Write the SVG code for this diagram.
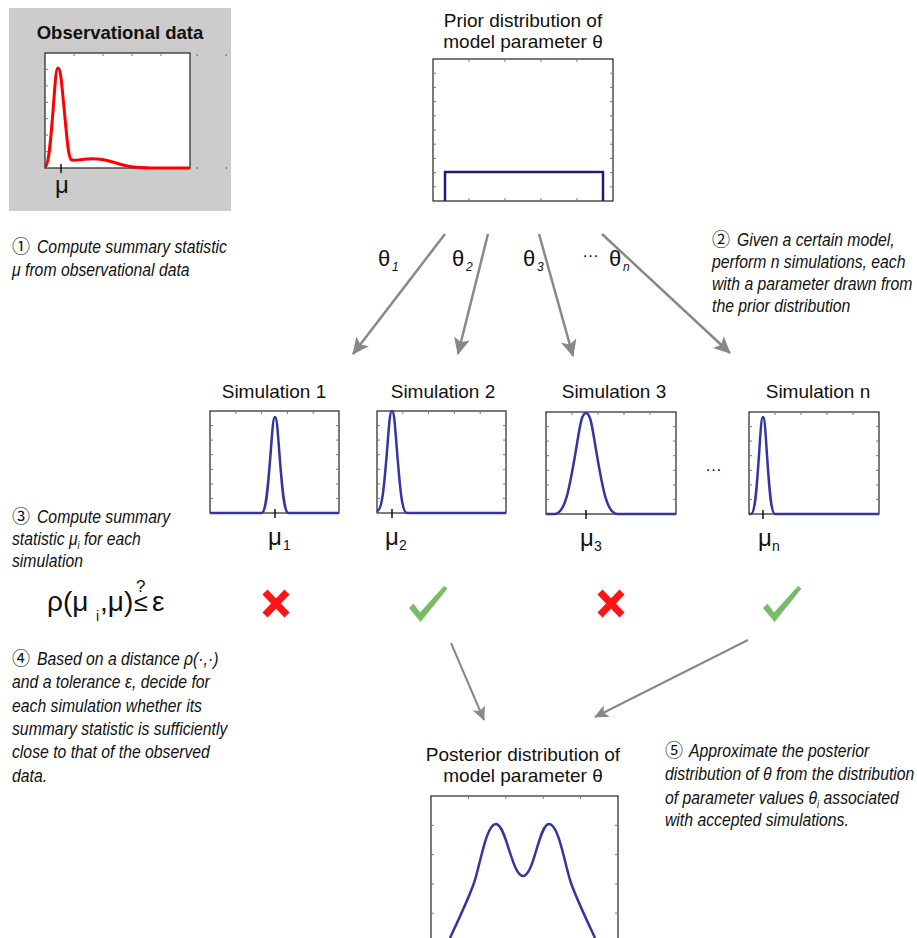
<svg xmlns="http://www.w3.org/2000/svg" width="917" height="938" viewBox="0 0 917 938">
<defs>
<style>
.lbl{font-family:"Liberation Sans",Arial,sans-serif;fill:#111}
.ann{font-family:"Liberation Sans Narrow","Liberation Sans",sans-serif;font-style:italic;font-size:19px;fill:#111}
.num{font-family:"Noto Sans CJK JP","DejaVu Sans",sans-serif;font-style:normal;font-size:18px;fill:#111}
.box{fill:#fff;stroke:#222;stroke-width:1.2}
.tick{stroke:#777;stroke-width:1;fill:none}
.curve{fill:none;stroke:#3535a0;stroke-width:2.5;stroke-linejoin:round}
.conn{stroke:#888;stroke-width:2.5;fill:none}
.conn2{stroke:#888;stroke-width:2;fill:none}
.mutick{stroke:#111;stroke-width:1.5}
.cross{stroke:#ff1414;stroke-width:7;fill:none}
.check{fill:#78bb68}
</style>
<marker id="ah" viewBox="0 0 17 16" refX="16" refY="8" markerWidth="17" markerHeight="16" markerUnits="userSpaceOnUse" orient="auto"><path d="M0,0 L17,8 L0,16 L4,8 Z" fill="#888"/></marker>
<marker id="ah2" viewBox="0 0 17 16" refX="16" refY="8" markerWidth="14" markerHeight="13" markerUnits="userSpaceOnUse" orient="auto"><path d="M0,0 L17,8 L0,16 L4,8 Z" fill="#888"/></marker>
</defs>

<g id="observational-data">
<rect x="9" y="8" width="222" height="203" fill="#cccccc"/>
<text class="lbl" x="120" y="39" font-size="18.5" font-weight="bold" text-anchor="middle">Observational data</text>
<rect class="box" x="45" y="53" width="145" height="115"/>
<path class="tick" d="M74,53v3M103,53v3M132,53v3M161,53v3M45,69.4h3M45,85.9h3M45,102.3h3M45,118.7h3M45,135.1h3M45,151.6h3"/>
<path stroke="#666" stroke-width="1.5" d="M196.5,55h1.5M225.5,55h1.5M196.5,168h1.5M225.5,168h1.5"/>
<path d="M45,167 C48.6,166 50.5,143.7 53.3,107.3 C55.2,83 55.9,68 58,68 C60.7,68 61.6,83 64,107.3 C66.4,131.6 68,157 71,159.5 C73,161 77,160 82,159.5 C88,158.8 95,158.5 102,159.5 C112,161 120,165 130,166.5 C140,168 150,168 160,168 L190,168" fill="none" stroke="#ff0000" stroke-width="3" stroke-linejoin="round"/>
<path class="mutick" d="M61,164v9"/>
<text class="lbl" x="55" y="193" font-size="24">μ</text>
</g>

<g id="prior">
<text class="lbl" x="523" y="27" font-size="19" text-anchor="middle">Prior distribution of</text>
<text class="lbl" x="523" y="48" font-size="19" text-anchor="middle">model parameter θ</text>
<rect class="box" x="433" y="59" width="180" height="142"/>
<path class="tick" d="M469,59v3M505,59v3M541,59v3M577,59v3M469,201v-3M505,201v-3M541,201v-3M577,201v-3M433,73.2h3M433,87.4h3M433,101.6h3M433,115.8h3M433,130h3M433,144.2h3M433,158.4h3M433,172.6h3M433,186.8h3M613,73.2h-3M613,87.4h-3M613,101.6h-3M613,115.8h-3M613,130h-3M613,144.2h-3M613,158.4h-3M613,172.6h-3M613,186.8h-3"/>
<path d="M445,201V172H603V201" fill="none" stroke="#1c1c78" stroke-width="2.5"/>
</g>

<g id="sim1">
<text class="lbl" x="274" y="398" font-size="19" text-anchor="middle">Simulation 1</text>
<rect class="box" x="210" y="411" width="129" height="102"/>
<path class="tick" d="M235.8,411v3M261.6,411v3M287.4,411v3M313.2,411v3M210,425.6h3M210,440.1h3M210,454.7h3M210,469.3h3M210,483.9h3M210,498.4h3M339,425.6h-3M339,440.1h-3M339,454.7h-3M339,469.3h-3M339,483.9h-3M339,498.4h-3"/>
<path class="curve" d="M210,513 H261.5 C266,513 267.8,489.7 270.5,454.7 C272.3,431.4 273,417 275,417 C277,417 277.7,431.4 279.5,454.7 C282.2,489.7 284,513 288.5,513 H339"/>
<path class="mutick" d="M275,509v9"/>
<text class="lbl" font-size="24" y="545"><tspan x="268">μ</tspan><tspan x="283" y="550" font-size="14">1</tspan></text>
</g>

<g id="sim2">
<text class="lbl" x="443" y="398" font-size="19" text-anchor="middle">Simulation 2</text>
<rect class="box" x="377" y="411" width="129" height="102"/>
<path class="tick" d="M402.8,411v3M428.6,411v3M454.4,411v3M480.2,411v3M377,425.6h3M377,440.1h3M377,454.7h3M377,469.3h3M377,483.9h3M377,498.4h3M506,425.6h-3M506,440.1h-3M506,454.7h-3M506,469.3h-3M506,483.9h-3M506,498.4h-3"/>
<path class="curve" d="M377,511 C382,511 384,488.2 387,451.1 C389,426.3 389.75,411 392,411 C394.25,411 395,426.3 397,451.1 C400,488.2 402,513 407,513 H506"/>
<path class="mutick" d="M392,509v9"/>
<text class="lbl" font-size="24" y="545"><tspan x="385">μ</tspan><tspan x="399" y="550" font-size="14">2</tspan></text>
</g>

<g id="sim3">
<text class="lbl" x="614" y="398" font-size="19" text-anchor="middle">Simulation 3</text>
<rect class="box" x="546" y="412" width="130" height="102"/>
<path class="tick" d="M572,412v3M598,412v3M624,412v3M650,412v3M546,426.6h3M546,441.1h3M546,455.7h3M546,470.3h3M546,484.9h3M546,499.4h3M676,426.6h-3M676,441.1h-3M676,455.7h-3M676,470.3h-3M676,484.9h-3M676,499.4h-3"/>
<path class="curve" d="M546,514 H554.5 C565,514 569.2,489.5 575.5,452.7 C579.7,428.1 581.3,413 586,413 C590.7,413 592.3,428.1 596.5,452.7 C602.8,489.5 607,514 617.5,514 H676"/>
<path class="mutick" d="M586,510v9"/>
<text class="lbl" font-size="24" y="546"><tspan x="580">μ</tspan><tspan x="594" y="551" font-size="14">3</tspan></text>
</g>

<g id="sim-ellipsis">
<text class="lbl" x="705" y="471" font-size="17">…</text>
</g>

<g id="simn">
<text class="lbl" x="818" y="398" font-size="19" text-anchor="middle">Simulation n</text>
<rect class="box" x="749" y="412" width="130" height="102"/>
<path class="tick" d="M775,412v3M801,412v3M827,412v3M853,412v3M749,426.6h3M749,441.1h3M749,455.7h3M749,470.3h3M749,484.9h3M749,499.4h3M879,426.6h-3M879,441.1h-3M879,455.7h-3M879,470.3h-3M879,484.9h-3M879,499.4h-3"/>
<path class="curve" d="M749,514 H751 C755,514 756.6,490.4 759,455.1 C760.6,431.5 761.2,417 763,417 C764.8,417 765.4,431.5 767,455.1 C769.4,490.4 771,514 775,514 H879"/>
<path class="mutick" d="M763,510v9"/>
<text class="lbl" font-size="24" y="546"><tspan x="758">μ</tspan><tspan x="772" y="551" font-size="14">n</tspan></text>
</g>

<g id="posterior">
<text class="lbl" x="523" y="761" font-size="19" text-anchor="middle">Posterior distribution of</text>
<text class="lbl" x="523" y="782" font-size="19" text-anchor="middle">model parameter θ</text>
<rect class="box" x="431" y="796" width="187" height="200"/>
<path class="tick" d="M468.4,796v3M505.8,796v3M543.2,796v3M580.6,796v3M431,825.3h3M431,854.6h3M431,883.9h3M431,913.2h3M618,825.3h-3M618,854.6h-3M618,883.9h-3M618,913.2h-3"/>
<path class="curve" d="M450,938 C456,925 468,900 474,883 C480,866 486,824 496,824 C506,824 512,876 523,876 C534,876 539,824 549,824 C559,824 565,866 571,883 C577,900 589,925 595,938"/>
</g>

<g id="connectors">
<line class="conn" x1="445" y1="234" x2="353" y2="354" marker-end="url(#ah)"/>
<line class="conn" x1="488" y1="234" x2="458" y2="354" marker-end="url(#ah)"/>
<line class="conn" x1="539" y1="234" x2="573" y2="356" marker-end="url(#ah)"/>
<line class="conn" x1="602" y1="234" x2="730" y2="353" marker-end="url(#ah)"/>
<line class="conn2" x1="451" y1="643" x2="484" y2="720" marker-end="url(#ah2)"/>
<line class="conn2" x1="748" y1="640" x2="595" y2="717" marker-end="url(#ah2)"/>
</g>

<g id="theta-labels">
<text class="lbl" font-size="22" y="266"><tspan x="378">θ</tspan><tspan x="392" y="271" font-size="12" font-style="italic">1</tspan></text>
<text class="lbl" font-size="22" y="266"><tspan x="452">θ</tspan><tspan x="466" y="271" font-size="12" font-style="italic">2</tspan></text>
<text class="lbl" font-size="22" y="266"><tspan x="523">θ</tspan><tspan x="537" y="271" font-size="12" font-style="italic">3</tspan></text>
<text class="lbl" font-size="17" x="582" y="257">…</text>
<text class="lbl" font-size="22" y="266"><tspan x="609">θ</tspan><tspan x="623" y="271" font-size="12" font-style="italic">n</tspan></text>
</g>

<g id="decisions">
<path class="cross" d="M265,592L287,615M287,592L265,615"/>
<polygon class="check" points="409,608 413.5,603.5 420,612.5 444,586 447.5,588.5 420.5,622"/>
<path class="cross" d="M600,592L622,615M622,592L600,615"/>
<polygon class="check" points="763,608 767.5,603.5 774,612.5 798,586 801.5,588.5 774.5,622"/>
</g>

<g id="formula">
<text class="lbl" font-size="28" y="611"><tspan x="47">ρ(μ</tspan><tspan x="96" y="621" font-size="14">i</tspan><tspan x="100" y="611">,μ)</tspan><tspan x="134" font-size="25">≤</tspan><tspan x="152">ε</tspan></text>
<text class="lbl" font-size="17" x="136" y="592">?</text>
</g>

<g id="step1">
<text class="num" x="12" y="253">①</text>
<text class="ann" x="0" y="253" transform="translate(37,0) scale(0.83,1)">Compute summary statistic</text>
<text class="ann" x="0" y="276" transform="translate(12,0) scale(0.83,1)">μ from observational data</text>
</g>

<g id="step2">
<text class="num" x="712" y="246">②</text>
<text class="ann" x="0" y="246" transform="translate(737,0) scale(0.83,1)">Given a certain model,</text>
<text class="ann" x="0" y="268" transform="translate(712,0) scale(0.83,1)">perform n simulations, each</text>
<text class="ann" x="0" y="290" transform="translate(712,0) scale(0.83,1)">with a parameter drawn from</text>
<text class="ann" x="0" y="312" transform="translate(712,0) scale(0.83,1)">the prior distribution</text>
</g>

<g id="step3">
<text class="num" x="12" y="523">③</text>
<text class="ann" x="0" y="523" transform="translate(37,0) scale(0.83,1)">Compute summary</text>
<text class="ann" x="0" y="545" transform="translate(12,0) scale(0.83,1)">statistic μ<tspan font-size="11" dy="4">i</tspan><tspan dy="-4"> for each</tspan></text>
<text class="ann" x="0" y="567" transform="translate(12,0) scale(0.83,1)">simulation</text>
</g>

<g id="step4">
<text class="num" x="12" y="665">④</text>
<text class="ann" x="0" y="665" transform="translate(37,0) scale(0.83,1)">Based on a distance ρ(·,·)</text>
<text class="ann" x="0" y="688" transform="translate(12,0) scale(0.83,1)">and a tolerance ε, decide for</text>
<text class="ann" x="0" y="712" transform="translate(12,0) scale(0.83,1)">each simulation whether its</text>
<text class="ann" x="0" y="735" transform="translate(12,0) scale(0.83,1)">summary statistic is sufficiently</text>
<text class="ann" x="0" y="758" transform="translate(12,0) scale(0.83,1)">close to that of the observed</text>
<text class="ann" x="0" y="782" transform="translate(12,0) scale(0.83,1)">data.</text>
</g>

<g id="step5">
<text class="num" x="665" y="757">⑤</text>
<text class="ann" x="0" y="757" transform="translate(689,0) scale(0.83,1)">Approximate the posterior</text>
<text class="ann" x="0" y="780" transform="translate(665,0) scale(0.83,1)">distribution of θ from the distribution</text>
<text class="ann" x="0" y="804" transform="translate(665,0) scale(0.83,1)">of parameter values θ<tspan font-size="11" dy="4">i</tspan><tspan dy="-4"> associated</tspan></text>
<text class="ann" x="0" y="826" transform="translate(665,0) scale(0.83,1)">with accepted simulations.</text>
</g>
</svg>
